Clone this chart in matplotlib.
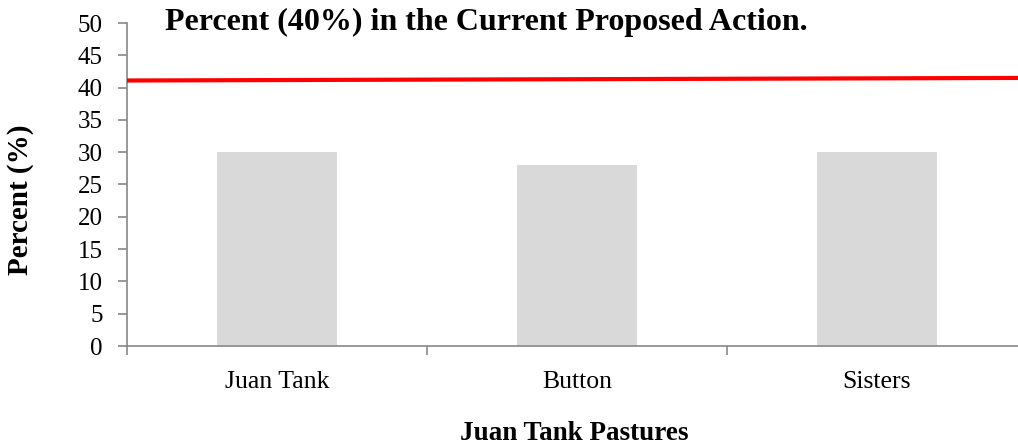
import matplotlib
matplotlib.use("Agg")
import matplotlib.pyplot as plt
from matplotlib.ticker import FixedLocator, NullFormatter

categories = ["Juan Tank", "Button", "Sisters"]
values = [30, 28, 30]
threshold_line = [41.1, 41.5]
title_text = "Percent (40%) in the Current Proposed Action."

plt.rcParams["font.family"] = ["Liberation Serif", "DejaVu Serif"]

fig = plt.figure(figsize=(10.18, 4.44), dpi=100)
ax = fig.add_axes([127/1018, 1-346/444, 900/1018, 323/444])

x = list(range(len(categories)))
ax.bar(x, values, width=0.4, color="#d9d9d9", zorder=2)
ax.plot([-0.5, len(categories) - 0.5], threshold_line, color="#ff0000", lw=3, zorder=3)

ax.set_xlim(-0.5, len(categories) - 0.5)
ax.set_ylim(0, 50)
ax.set_yticks(range(0, 51, 5))
ax.set_xticks(x)
ax.set_xticklabels(categories, fontsize=18.5)
ax.tick_params(axis="x", which="major", length=0, pad=18)
ax.xaxis.set_minor_locator(FixedLocator([-0.5, 0.5, 1.5, 2.5]))
ax.xaxis.set_minor_formatter(NullFormatter())
ax.tick_params(axis="x", which="minor", length=6.5, color="#888888", width=1.2)
ax.tick_params(axis="y", length=6.5, color="#888888", width=1.2, labelsize=18, pad=11)

for s in ["top", "right"]:
    ax.spines[s].set_visible(False)
for s in ["left", "bottom"]:
    ax.spines[s].set_color("#888888")
    ax.spines[s].set_linewidth(1.2)

fig.text(21/1018, 1-200/444, "Percent (%)", fontsize=21, fontweight="bold",
         ha="center", va="center", rotation=90)
fig.text(574/1018, 1-440/444, "Juan Tank Pastures", fontsize=19.5, fontweight="bold",
         ha="center", va="baseline")
fig.text(486/1018, 1-30/444, title_text, fontsize=23, fontweight="bold",
         ha="center", va="baseline")

fig.savefig("out.png", dpi=100)
